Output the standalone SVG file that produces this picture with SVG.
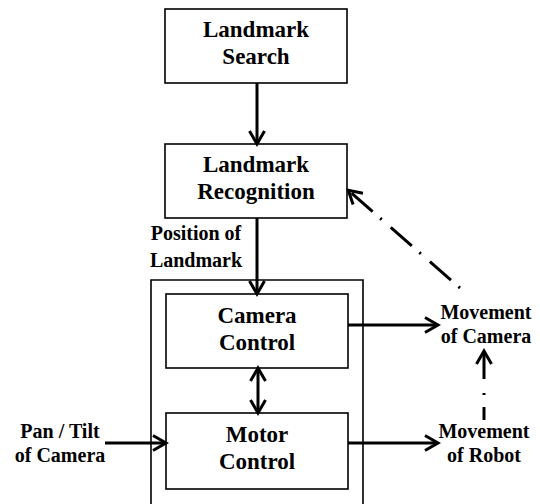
<svg xmlns="http://www.w3.org/2000/svg" width="540" height="504" viewBox="0 0 540 504">
<style>
.box{fill:#fff;stroke:#000;stroke-width:1.6}
.t{font-family:"Liberation Serif","Times New Roman",serif;font-weight:bold;font-size:23px;text-anchor:middle;fill:#000}
.l{font-family:"Liberation Serif","Times New Roman",serif;font-weight:bold;font-size:20px;text-anchor:middle;fill:#000}
.a{fill:none;stroke:#000;stroke-width:3}
.dd{fill:none;stroke:#000;stroke-width:3}
</style>
<defs>
<marker id="ah" markerUnits="userSpaceOnUse" markerWidth="20" markerHeight="20" viewBox="-16 -10 20 20" refX="-1" refY="0" orient="auto-start-reverse">
<path d="M-13 -7.5 L0 0 L-13 7.5" fill="none" stroke="#000" stroke-width="3"/>
</marker>
</defs>
<rect width="540" height="504" fill="#fff"/>
<g id="outer">
<path d="M151 505 V280 H363 V505" fill="none" stroke="#000" stroke-width="1.6"/>
</g>
<g id="search">
<rect class="box" x="165" y="9" width="182" height="74"/>
<text class="t" x="256" y="37">Landmark</text>
<text class="t" x="256" y="64">Search</text>
</g>
<g id="recognition">
<rect class="box" x="165" y="144" width="182" height="74"/>
<text class="t" x="256" y="172">Landmark</text>
<text class="t" x="256" y="199">Recognition</text>
</g>
<g id="camera">
<rect class="box" x="166" y="294" width="182" height="74"/>
<text class="t" x="257" y="323">Camera</text>
<text class="t" x="257" y="350">Control</text>
</g>
<g id="motor">
<rect class="box" x="166" y="413" width="182" height="76"/>
<text class="t" x="257" y="442">Motor</text>
<text class="t" x="257" y="469">Control</text>
</g>
<g id="position-label">
<text class="l" x="196" y="240">Position of</text>
<text class="l" x="196" y="267">Landmark</text>
</g>
<g id="pantilt">
<text class="l" x="60" y="438">Pan / Tilt</text>
<text class="l" x="60" y="462">of Camera</text>
</g>
<g id="move-camera">
<text class="l" x="486" y="319">Movement</text>
<text class="l" x="486" y="343">of Camera</text>
</g>
<g id="move-robot">
<text class="l" x="484" y="438">Movement</text>
<text class="l" x="484" y="462">of Robot</text>
</g>
<g id="connectors">
<path class="a" d="M257 83 V143" marker-end="url(#ah)"/>
<path class="a" d="M257 218 V293" marker-end="url(#ah)"/>
<path class="a" d="M258 369 V412" marker-start="url(#ah)" marker-end="url(#ah)"/>
<path class="a" d="M105 443 H165" marker-end="url(#ah)"/>
<path class="a" d="M348 325 H437" marker-end="url(#ah)"/>
<path class="a" d="M348 443 H437" marker-end="url(#ah)"/>
<path class="dd" d="M460 288 L349 191" stroke-dasharray="2 10 28 12" marker-end="url(#ah)"/>
<path class="dd" d="M484 420 V352" stroke-dasharray="13 12 2 14 60" marker-end="url(#ah)"/>
</g>
</svg>
